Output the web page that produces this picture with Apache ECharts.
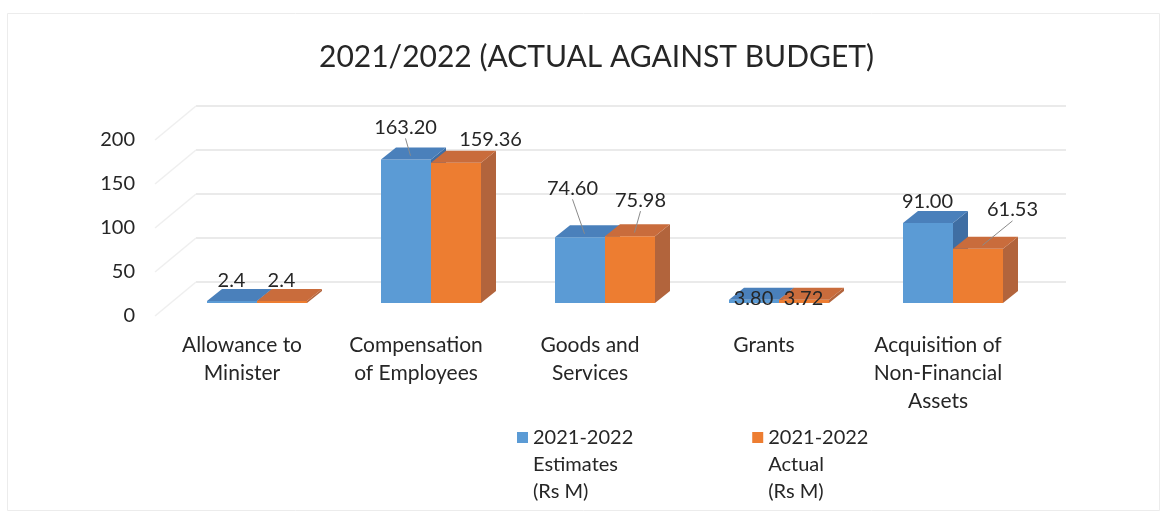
<!DOCTYPE html>
<html>
<head>
<meta charset="utf-8">
<title>2021/2022 (ACTUAL AGAINST BUDGET)</title>
<script src="https://cdn.jsdelivr.net/npm/echarts@6/dist/echarts.min.js"></script>
<style>
  html, body { margin: 0; padding: 0; background: #ffffff; }
  #chart { width: 1167px; height: 513px; }
</style>
</head>
<body>
<div id="chart"></div>
<script>
// ---- data ----
const categories = [
  'Allowance to\nMinister',
  'Compensation\nof Employees',
  'Goods and\nServices',
  'Grants',
  'Acquisition of\nNon-Financial\nAssets'
];
const estimateName = '2021-2022 Estimates (Rs M)';
const actualName = '2021-2022 Actual (Rs M)';
const estimates = [2.4, 163.20, 74.60, 3.80, 91.00];
const actuals = [2.4, 159.36, 75.98, 3.72, 61.53];
const estimateLabels = ['2.4', '163.20', '74.60', '3.80', '91.00'];
const actualLabels = ['2.4', '159.36', '75.98', '3.72', '61.53'];
const yTicks = [0, 50, 100, 150, 200];

// ---- look ----
const FONT = 'Lato, "Open Sans", sans-serif';
const TEXT = '#262626';
const GRID_LINE = '#e3e3e3';
const DEPTH_X = 15;       // receding offset of a bar's top/side face
const DEPTH_Y = 12;
const BAR_FRAC = 50 / 174; // one bar's width as a share of the category band
const FACES = [
  { front: '#5b9bd5', top: '#4a80bb', side: '#3f6ea3' },
  { front: '#ed7d31', top: '#c96c3c', side: '#b2643c' }
];
// label placement relative to the centre of each bar's top face [dx, dy, leader]
const LABEL_SHIFT = [
  [[-8, -14, 0], [-8, -26, 1], [-15, -43, 1], [-8, 5, 0], [-8, -15, 0]],
  [[-8, -14, 0], [27, -17, 0], [3, -30, 1], [-8, 5, 0], [27, -33, 1]]
];

function barRenderer(s, labels) {
  return function (params, api) {
    const i = api.value(0);
    const v = api.value(1);
    const topPt = api.coord([i, v]);
    const basePt = api.coord([i, 0]);
    const band = api.size([1, 0])[0];
    const w = band * BAR_FRAC;
    const x0 = s === 0 ? topPt[0] - w : topPt[0];
    const x1 = x0 + w;
    const top = topPt[1];
    const bot = basePt[1];
    const c = FACES[s];
    const faceCx = (x0 + x1) / 2 + DEPTH_X / 2;
    const faceCy = top - DEPTH_Y / 2;
    const sh = LABEL_SHIFT[s][i];
    const lx = faceCx + sh[0];
    const ly = faceCy + sh[1];
    const children = [
      { type: 'polygon', shape: { points: [[x1, top], [x1 + DEPTH_X, top - DEPTH_Y], [x1 + DEPTH_X, bot - DEPTH_Y], [x1, bot]] },
        style: { fill: c.side } },
      { type: 'rect', shape: { x: x0, y: top, width: w, height: Math.max(bot - top, 0.5) },
        style: { fill: c.front } },
      { type: 'polygon', shape: { points: [[x0, top], [x1, top], [x1 + DEPTH_X, top - DEPTH_Y], [x0 + DEPTH_X, top - DEPTH_Y]] },
        style: { fill: c.top } }
    ];
    if (sh[2]) {
      children.push({ type: 'line', z2: 5,
        shape: { x1: lx, y1: ly + 11, x2: (x0 + x1) / 2 + DEPTH_X * 0.3, y2: top - DEPTH_Y * 0.3 },
        style: { stroke: '#8a8a8a', lineWidth: 1 } });
    }
    children.push({ type: 'text', z2: 10,
      style: { x: lx, y: ly, text: labels[i], fill: TEXT, font: '20px ' + FONT, align: 'center', verticalAlign: 'middle' } });
    return { type: 'group', children: children };
  };
}

// faint diagonals of the left side wall, one per value tick
function wallRenderer(params, api) {
  const v = api.value(0);
  const p = api.coord([0, v]);
  const band = api.size([1, 0])[0];
  const x = p[0] - band / 2;
  return { type: 'line', shape: { x1: x, y1: p[1], x2: x - 41, y2: p[1] + 34 },
    style: { stroke: '#efefef', lineWidth: 1.5 } };
}

const chart = echarts.init(document.getElementById('chart'), null, { renderer: 'canvas' });

const option = {
  backgroundColor: '#ffffff',
  animation: false,
  textStyle: { fontFamily: FONT, color: TEXT },
  title: {
    text: '2021/2022 (ACTUAL AGAINST BUDGET)',
    left: 314,
    top: 37,
    textStyle: { fontFamily: FONT, fontSize: 30, fontWeight: 'normal', color: TEXT }
  },
  graphic: [{
    type: 'rect', silent: true, z: -10,
    shape: { x: 7.5, y: 13.5, width: 1152, height: 497 },
    style: { fill: 'none', stroke: '#ececec', lineWidth: 1 }
  }],
  legend: {
    left: 517,
    top: 424,
    padding: 0,
    itemGap: 119,
    itemWidth: 11,
    itemHeight: 65,
    icon: 'path://M0,0L11,0L11,11L0,11Z M0,65L0.01,65',
    data: [
      { name: estimateName, itemStyle: { color: FACES[0].front } },
      { name: actualName, itemStyle: { color: FACES[1].front } }
    ],
    formatter: function (name) {
      return name === estimateName ? '2021-2022\nEstimates\n(Rs M)' : '2021-2022\nActual\n(Rs M)';
    },
    textStyle: { fontFamily: FONT, fontSize: 20, color: TEXT, lineHeight: 27 }
  },
  grid: [
    { left: 196, right: 101, top: 106, height: 176 },  // back wall
    { left: 170, right: 127, top: 127, height: 176 },  // bar fronts
    { left: 155, right: 142, top: 140, height: 176 }   // axis labels
  ],
  xAxis: [
    { gridIndex: 0, type: 'category', data: categories, show: false },
    { gridIndex: 1, type: 'category', data: categories, show: false },
    { gridIndex: 2, type: 'category', data: categories,
      axisLine: { show: false }, axisTick: { show: false },
      axisLabel: { interval: 0, margin: 15, fontFamily: FONT, fontSize: 21, lineHeight: 28, color: TEXT } }
  ],
  yAxis: [
    { gridIndex: 0, type: 'value', min: 0, max: 200, interval: 50,
      axisLabel: { show: false }, axisLine: { show: false }, axisTick: { show: false },
      splitLine: { show: true, lineStyle: { color: GRID_LINE, width: 1.5 } } },
    { gridIndex: 1, type: 'value', min: 0, max: 200, interval: 50, show: false, splitLine: { show: false } },
    { gridIndex: 2, type: 'value', min: 0, max: 200, interval: 50,
      axisLine: { show: false }, axisTick: { show: false }, splitLine: { show: false },
      axisLabel: { margin: 20, fontFamily: FONT, fontSize: 20, color: TEXT } }
  ],
  series: [
    { type: 'custom', name: 'wall', xAxisIndex: 0, yAxisIndex: 0, silent: true, z: 1,
      data: yTicks.map(function (t) { return [t]; }),
      encode: { y: 0 },
      renderItem: wallRenderer },
    { type: 'custom', name: estimateName, xAxisIndex: 1, yAxisIndex: 1, z: 3,
      itemStyle: { color: FACES[0].front },
      data: estimates.map(function (v, i) { return [i, v]; }),
      encode: { x: 0, y: 1 },
      renderItem: barRenderer(0, estimateLabels) },
    { type: 'custom', name: actualName, xAxisIndex: 1, yAxisIndex: 1, z: 4,
      itemStyle: { color: FACES[1].front },
      data: actuals.map(function (v, i) { return [i, v]; }),
      encode: { x: 0, y: 1 },
      renderItem: barRenderer(1, actualLabels) }
  ]
};

chart.setOption(option);
</script>
</body>
</html>
